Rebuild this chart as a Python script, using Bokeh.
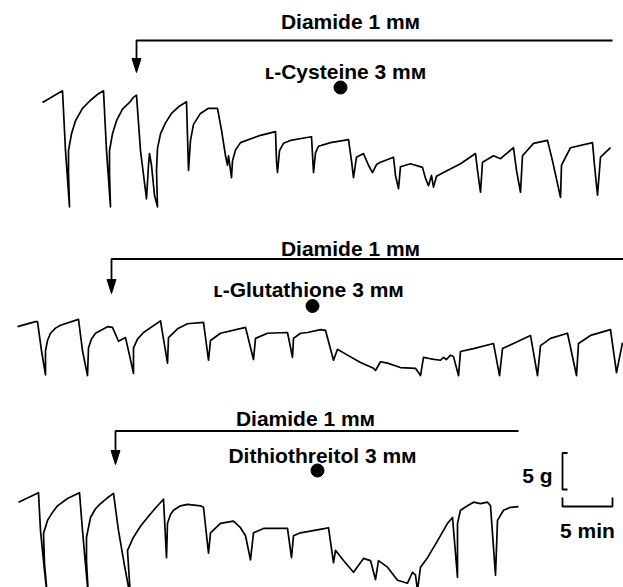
from bokeh.plotting import figure
from bokeh.models import Range1d
from bokeh.embed import file_html
from bokeh.resources import INLINE
from bokeh.core.properties import value

# ---------------- data (time in min, tension in g above trace floor) -------------
cys_t = [3.2, 5.2, 5.5, 5.9, 5.8, 5.8, 6.1, 6.5, 7.2, 8.0, 8.8, 9.3,
         9.6, 10.0, 9.9, 9.9, 10.2, 10.6, 11.2, 11.9, 12.3, 12.6,
         13.0, 13.6, 13.8, 13.9, 14.1, 14.4, 14.7, 14.6, 14.7, 15.0, 15.5, 16.1, 16.8, 17.6,
         17.8, 18.0, 18.3, 19.0, 19.8, 20.7,
         21.1, 21.5, 21.7, 21.8, 22.1, 22.2, 22.5, 23.0, 25.0, 26.5,
         26.6, 26.7, 26.9, 27.3, 28.0, 29.2, 30.1,
         30.3, 30.5, 30.8, 32.0, 33.8,
         34.1, 34.3, 34.6, 35.3, 35.8, 36.2, 36.6, 37.0, 38.3,
         38.5, 38.8, 39.0, 40.0, 41.2, 41.5, 41.8, 42.1, 42.3, 42.6, 43.3, 45.0, 46.5,
         46.7, 47.0, 47.2, 48.3, 49.0, 50.3,
         50.6, 51.0, 51.2, 52.3, 53.7,
         54.2, 55.0, 55.1, 56.0, 58.2,
         58.4, 58.7, 59.0, 60.0]
cys_g = [14.8, 16.4, 8.2, 0.5, 5.1, 8.2, 10.5, 12.3, 14.0, 15.1, 16.0, 16.4,
         8.2, 0.5, 5.1, 8.2, 10.5, 12.3, 13.9, 14.8, 15.5, 15.8,
         8.2, 1.6, 6.2, 7.8, 6.2, 2.1, 0.5, 5.5, 8.5, 10.5, 12.0, 13.3, 14.2, 14.9,
         5.5, 9.6, 11.8, 13.3, 14.0, 14.0,
         11.0, 7.5, 6.2, 7.5, 4.5, 6.8, 8.3, 9.3, 10.3, 10.8,
         6.8, 5.2, 8.2, 9.2, 9.6, 9.9, 10.1,
         5.2, 7.9, 8.8, 9.3, 9.7,
         6.8, 4.5, 7.3, 7.8, 6.2, 5.2, 6.3, 6.6, 7.3,
         4.8, 3.0, 6.0, 6.4, 5.9, 4.4, 3.4, 4.8, 3.2, 4.7, 5.2, 6.4, 7.8,
         5.5, 2.5, 6.6, 7.5, 7.1, 8.6,
         5.5, 2.5, 7.5, 9.2, 9.6,
         6.8, 1.8, 6.2, 8.6, 9.3,
         6.2, 2.1, 7.3, 8.6]

gsh_t = [0.7, 2.5, 2.7, 3.1, 3.5, 3.5, 3.7, 4.0, 4.5, 5.0, 6.8, 7.2, 7.7, 7.8, 8.1, 8.5, 9.7, 10.2, 10.8, 11.5,
         11.9, 12.3, 12.3, 12.7, 13.3, 15.0, 15.7, 15.8, 16.7, 17.7, 19.3, 19.8, 20.0, 21.0, 23.5, 24.3, 24.5,
         25.7, 27.7, 28.2, 28.3, 29.0, 29.7, 31.0, 31.5, 32.3, 32.7, 33.7, 35.0, 36.3, 36.5, 37.0, 37.7,
         39.0, 40.5, 41.0, 41.3, 42.0, 43.0, 43.3, 43.6, 44.0, 44.3, 44.8, 45.0, 46.3, 48.3, 48.9, 49.2,
         50.3, 52.0, 52.7, 53.0, 54.0, 55.7, 56.6, 56.8, 58.0, 60.0, 60.6, 61.2]
gsh_g = [7.1, 7.8, 7.8, 3.8, 0.5, 3.8, 5.2, 6.2, 6.9, 7.3, 8.1, 3.8, 0.4, 4.2, 5.4, 6.2, 7.1, 7.0, 5.1, 5.6,
         3.2, 0.7, 4.2, 5.4, 6.3, 7.9, 2.1, 5.6, 6.8, 7.5, 7.7, 2.5, 5.2, 6.2, 7.0, 2.6, 5.5,
         6.2, 6.3, 2.9, 5.5, 6.2, 6.3, 6.7, 6.6, 2.5, 4.0, 3.2, 2.2, 1.4, 1.1, 2.3, 2.1,
         1.5, 1.4, 0.4, 2.9, 2.7, 2.5, 2.9, 2.6, 3.2, 3.0, 0.4, 3.7, 4.1, 4.8, 0.4, 4.1,
         4.8, 5.9, 0.4, 4.5, 5.5, 6.2, 0.4, 4.8, 5.9, 6.7, 0.8, 4.9]

dtt_t = [0.8, 2.8, 3.0, 3.4, 3.7, 3.4, 3.3, 3.7, 4.2, 4.7, 5.7, 6.9,
         7.2, 7.8, 7.6, 7.6, 8.0, 8.5, 9.0, 9.7, 10.3,
         10.8, 11.4, 12.0, 11.7, 12.3, 13.0, 13.7, 14.5, 15.3,
         15.6, 15.7, 16.0, 16.3, 17.0, 17.7, 19.0, 19.3,
         19.8, 20.0, 21.0, 22.3, 23.0, 23.5,
         24.0, 24.3, 25.3, 27.7, 28.1, 28.3, 29.0, 31.5, 31.8, 32.3, 32.5, 33.3, 34.3, 35.3, 36.0, 36.5,
         36.8, 37.7, 38.7, 39.7, 40.2, 40.5, 40.7, 41.0, 41.7, 42.7, 43.7, 44.2, 44.7, 44.7, 45.0, 45.7,
         46.3, 47.0, 47.7, 48.0, 48.5, 48.7, 49.3, 50.0, 50.8]
dtt_g = [12.1, 13.4, 8.2, 2.7, -1.0, 3.7, 7.8, 9.6, 10.7, 11.6, 12.6, 13.4,
         8.2, -1.0, 4.0, 7.3, 10.0, 11.2, 11.9, 12.7, 13.3,
         8.2, 3.4, -1.0, 5.5, 7.3, 8.8, 10.0, 11.3, 12.5,
         4.5, 9.2, 10.4, 11.0, 11.6, 11.8, 11.6, 11.4,
         5.1, 7.9, 9.2, 9.5, 8.6, 7.5,
         4.2, 7.9, 8.5, 8.5, 4.5, 7.5, 7.9, 8.5, 8.6, 3.8, 5.5, 4.1, 2.5, 4.4, 4.1, 1.5,
         4.1, 3.2, 1.4, 1.0, 2.5, 2.1, 0.0, 3.2, 4.5, 6.8, 9.2, 10.0, 1.8, 9.2, 11.0, 11.6,
         12.1, 11.9, 12.1, 11.6, 2.1, 9.6, 11.0, 11.4, 11.5]

diamide_add_min = [12.6, 10.1, 10.5]      # arrow: start of diamide
thiol_add_min = [33.0, 30.2, 30.7]        # dot: addition of thiol
diamide_label = "Diamide 1 m\u1d0d"
thiol_labels = ["\u029f-Cysteine 3 m\u1d0d", "\u029f-Glutathione 3 m\u1d0d", "Dithiothreitol 3 m\u1d0d"]
scale_g = 5
scale_min = 5

# ---------------- layout -------------------------------------------------------
PX_MIN = 10.0
PX_G = 7.3
W, H = 623, 587
X0 = -1.0   # image x = 0  ->  t = -1.0 min


def xp(px):
    return X0 + px / PX_MIN


def yp(py):
    return (H - py) / PX_G


p = figure(width=W, height=H, output_backend="svg", toolbar_location=None,
           x_range=Range1d(X0, X0 + W / PX_MIN), y_range=Range1d(0, H / PX_G),
           min_border=0, min_border_left=0, min_border_right=0,
           min_border_top=0, min_border_bottom=0)
p.axis.visible = False
p.grid.visible = False
p.outline_line_color = None
p.background_fill_color = "white"
p.border_fill_color = "white"

FONT = value("Liberation Sans")
FS = "21px"
FSTYLE = "bold"

panels = [
    dict(t=cys_t, g=cys_g, ref=210, line_py=40, line_end_px=612, tip_py=72,
         dtext=(350, 21), ttext=(345, 71), dot_py=87),
    dict(t=gsh_t, g=gsh_g, ref=378, line_py=258.5, line_end_px=623, tip_py=293,
         dtext=(350, 248), ttext=(308, 289), dot_py=305.5),
    dict(t=dtt_t, g=dtt_g, ref=590, line_py=430.5, line_end_px=518, tip_py=464,
         dtext=(305, 418), ttext=(322, 455), dot_py=470),
]

for i, pn in enumerate(panels):
    off = yp(pn["ref"])
    p.line(pn["t"], [v + off for v in pn["g"]], line_color="black", line_width=1.7,
           line_join="round")
    ta = diamide_add_min[i]
    ly = yp(pn["line_py"])
    tip = yp(pn["tip_py"])
    head_len = 14 / PX_G
    half_w = 4.5 / PX_MIN
    p.line([xp(pn["line_end_px"]), ta, ta], [ly, ly, tip + head_len * 0.5],
           line_color="black", line_width=1.8)
    p.patch([ta - half_w, ta + half_w, ta], [tip + head_len, tip + head_len, tip],
            color="black")
    p.text(x=[xp(pn["dtext"][0])], y=[yp(pn["dtext"][1])], text=[diamide_label],
           text_font=FONT, text_font_size=FS, text_font_style=FSTYLE, text_align="center",
           text_baseline="alphabetic", text_color="black")
    p.text(x=[xp(pn["ttext"][0])], y=[yp(pn["ttext"][1])], text=[thiol_labels[i]],
           text_font=FONT, text_font_size=FS, text_font_style=FSTYLE, text_align="center",
           text_baseline="alphabetic", text_color="black")
    p.scatter(x=[thiol_add_min[i]], y=[yp(pn["dot_py"])], size=13, color="black")

# scale bars
bx = xp(562)
by = yp(489)
tick_x = 5 / PX_MIN
p.line([bx + tick_x, bx, bx, bx + tick_x], [by + scale_g, by + scale_g, by, by],
       line_color="black", line_width=1.8)
hy = yp(506)
tick_y = 9 / PX_G
p.line([bx, bx, bx + scale_min, bx + scale_min], [hy + tick_y, hy, hy, hy + tick_y],
       line_color="black", line_width=1.8)
p.text(x=[xp(552)], y=[yp(475)], text=[f"{scale_g} g"], text_font=FONT, text_font_size=FS,
       text_font_style=FSTYLE, text_align="right", text_baseline="alphabetic", text_color="black")
p.text(x=[bx + scale_min / 2], y=[yp(530)], text=[f"{scale_min} min"], text_font=FONT,
       text_font_size=FS, text_font_style=FSTYLE, text_align="center",
       text_baseline="alphabetic", text_color="black")

open("out.html", "w").write(file_html(p, INLINE))
